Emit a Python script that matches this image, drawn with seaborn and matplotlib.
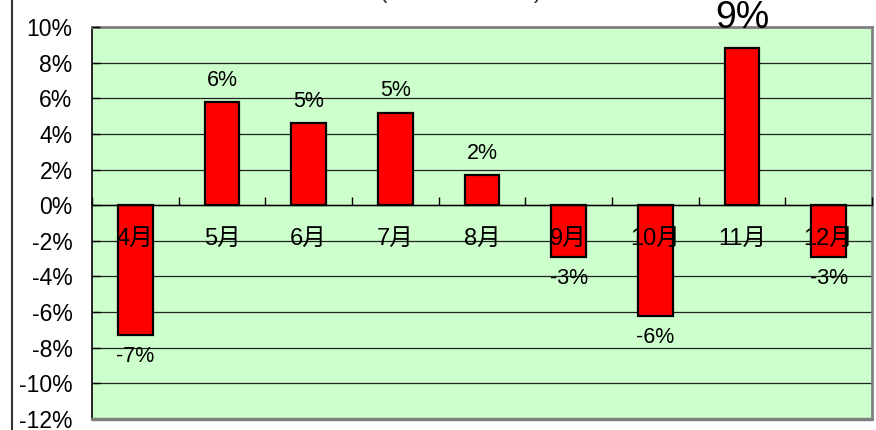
import matplotlib
matplotlib.use("Agg")
import matplotlib.pyplot as plt
import seaborn as sns
import pandas as pd
from matplotlib.ticker import FuncFormatter, FixedLocator

months = ["4月", "5月", "6月", "7月", "8月", "9月", "10月", "11月", "12月"]
values = [-7.3, 5.8, 4.6, 5.2, 1.7, -2.9, -6.2, 8.8, -2.9]
yticks = [-12, -10, -8, -6, -4, -2, 0, 2, 4, 6, 8, 10]

sns.set_theme(style="white")
plt.rcParams["font.family"] = ["Liberation Sans", "Noto Sans CJK SC", "DejaVu Sans"]

df = pd.DataFrame({"month": months, "value": values})

fig = plt.figure(figsize=(8.76, 4.30), dpi=100)
ax = fig.add_axes([92 / 876, 1 - 419 / 430, (872 - 92) / 876, (419 - 27) / 430])
ax.set_facecolor("#CCFFCC")

sns.barplot(data=df, x="month", y="value", color="red", saturation=1,
            edgecolor="black", linewidth=1.6, width=0.4, ax=ax, zorder=2)

ax.set_xlim(-0.5, len(months) - 0.5)
ax.set_ylim(-12, 10)
ax.set_xlabel("")
ax.set_ylabel("")

for t in yticks:
    ax.axhline(t, color="#222222", lw=0.9, zorder=0.5)

ax.set_axisbelow(False)
ax.set_yticks(yticks)
ax.yaxis.set_major_formatter(FuncFormatter(lambda v, p: f"{int(v)}%"))
ax.tick_params(axis="y", direction="in", length=6, width=1, pad=14,
               labelsize=16.5, colors="black", left=True)

ax.spines["bottom"].set_position(("data", 0))
ax.spines["bottom"].set_color("black")
ax.spines["bottom"].set_linewidth(1)
ax.spines["left"].set_color("black")
ax.spines["left"].set_linewidth(1.2)
for s in ["top", "right"]:
    ax.spines[s].set_color("#808080")
    ax.spines[s].set_linewidth(2)
ax.plot([0, 1], [0, 0], transform=ax.transAxes, color="#808080", lw=2.5,
        clip_on=False, zorder=3)

ax.tick_params(axis="x", which="major", length=0, pad=16, labelsize=17,
               colors="black")
ax.xaxis.set_minor_locator(FixedLocator([i - 0.5 for i in range(len(months) + 1)]))
ax.tick_params(axis="x", which="minor", direction="in", length=6, width=1,
               color="black", bottom=True)

big_idx = values.index(max(values))
for i, v in enumerate(values):
    size = 27 if i == big_idx else 15.5
    if v >= 0:
        ax.annotate(f"{round(v)}%", (i, v), xytext=(0, 8 if i != big_idx else 9),
                    textcoords="offset points", ha="center", va="bottom",
                    fontsize=size, color="black", annotation_clip=False)
    else:
        ax.annotate(f"{round(v)}%", (i, v), xytext=(0, -8),
                    textcoords="offset points", ha="center", va="top",
                    fontsize=size, color="black", annotation_clip=False)

# chart-area border (left edge visible) and cropped title fragment
fig.add_artist(plt.Line2D([12 / 876, 12 / 876], [0, 1], transform=fig.transFigure,
                          color="#333333", lw=1.5))
fig.text(383 / 876, 1 + 2 / 430, "(", fontsize=16, ha="center", va="baseline")
fig.text(538 / 876, 1 + 2 / 430, ")", fontsize=16, ha="center", va="baseline")

fig.savefig("out.png", dpi=100)
